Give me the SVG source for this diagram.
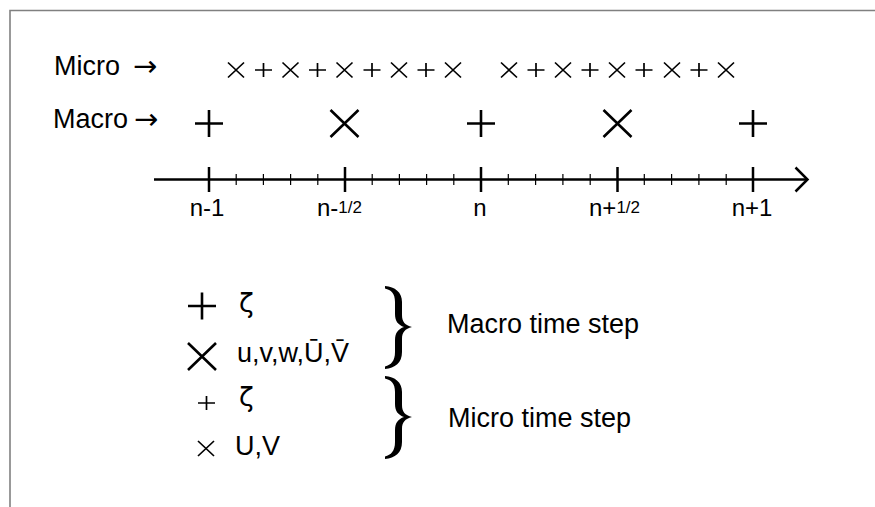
<svg xmlns="http://www.w3.org/2000/svg" xmlns:xlink="http://www.w3.org/1999/xlink" width="875" height="507" viewBox="0 0 875 507">
<style>
text{font-family:"Liberation Sans",Arial,sans-serif;fill:#000}
.lbl{font-size:27px}
.arr{font-family:"DejaVu Sans",sans-serif;font-size:29px}
.ax{font-size:24px}
.fr{font-size:17px}
.zeta{font-family:"DejaVu Sans",sans-serif;font-size:27px}
.mk{fill:none;stroke:#000;stroke-linecap:butt}
.frame{fill:none;stroke:#808080;stroke-width:1.6}
.axis{fill:none;stroke:#000;stroke-width:2.5}
.minor{stroke:#000;stroke-width:1.2}
</style>
<defs>
<path id="microX" class="mk" stroke-width="1.7" d="M-8,-7.5L8,7.5M-8,7.5L8,-7.5"/>
<path id="microP" class="mk" stroke-width="1.7" d="M-8.5,0H8.5M0,-7V7"/>
<path id="macroX" class="mk" stroke-width="2.6" d="M-14,-13.5L14,13.5M-14,13.5L14,-13.5"/>
<path id="macroP" class="mk" stroke-width="2.6" d="M-14,0H14M0,-13.5V13.5"/>
<path id="brace" d="M385,286 C395,287 402,292 402,302 L402,315 C402,322 405,325 412,327 C405,329 402,332 402,339 L402,352 C402,363 395,368 385,369 L385,366.5 C391,365 395,361 395,352 L395,340 C395,333 398,329 404,327 C398,325 395,321 395,314 L395,302 C395,293 391,290 385,288.5 Z" fill="#000"/>
</defs>

<g id="frame">
<path class="frame" d="M10,507V10.5H875"/>
</g>

<g id="row-labels">
<text class="lbl" x="54" y="75">Micro<tspan class="arr" x="133" y="76">→</tspan></text>
<text class="lbl" x="53" y="128">Macro<tspan class="arr" x="134" y="129">→</tspan></text>
</g>

<g id="micro-row">
<use xlink:href="#microX" x="236" y="70"/>
<use xlink:href="#microP" x="263.5" y="70"/>
<use xlink:href="#microX" x="290.5" y="70"/>
<use xlink:href="#microP" x="317.5" y="70"/>
<use xlink:href="#microX" x="344.5" y="70"/>
<use xlink:href="#microP" x="372" y="70"/>
<use xlink:href="#microX" x="399" y="70"/>
<use xlink:href="#microP" x="426" y="70"/>
<use xlink:href="#microX" x="453" y="70"/>
<use xlink:href="#microX" x="509" y="70"/>
<use xlink:href="#microP" x="536" y="70"/>
<use xlink:href="#microX" x="563" y="70"/>
<use xlink:href="#microP" x="590" y="70"/>
<use xlink:href="#microX" x="617" y="70"/>
<use xlink:href="#microP" x="644" y="70"/>
<use xlink:href="#microX" x="672" y="70"/>
<use xlink:href="#microP" x="699" y="70"/>
<use xlink:href="#microX" x="726" y="70"/>
</g>

<g id="macro-row">
<use xlink:href="#macroP" x="209" y="123.5"/>
<use xlink:href="#macroX" x="344.5" y="123.5"/>
<use xlink:href="#macroP" x="481" y="123.5"/>
<use xlink:href="#macroX" x="617.5" y="123.5"/>
<use xlink:href="#macroP" x="753" y="123.5"/>
</g>

<g id="connectors">
<path class="axis" d="M154,179.5H807"/>
<path class="axis" d="M795.5,167.5L807.5,179.5L795.5,191.5"/>
<path class="axis" d="M209,167V192M345,167V192M481,167V192M617.5,167V192M753,167V192"/>
<path class="minor" d="M236.2,174V185M263.4,174V185M290.6,174V185M317.8,174V185M372.2,174V185M399.4,174V185M426.6,174V185M453.8,174V185M508.3,174V185M535.6,174V185M562.9,174V185M590.2,174V185M644.3,174V185M671.6,174V185M698.9,174V185M726.2,174V185"/>
</g>

<g id="axis-labels">
<text class="ax" x="207" y="216" text-anchor="middle">n-1</text>
<text class="ax" x="317" y="216">n-<tspan class="fr" dy="-3">1/2</tspan></text>
<text class="ax" x="480" y="216" text-anchor="middle">n</text>
<text class="ax" x="589" y="216">n+<tspan class="fr" dy="-3">1/2</tspan></text>
<text class="ax" x="752" y="216" text-anchor="middle">n+1</text>
</g>

<g id="legend-macro">
<use xlink:href="#macroP" x="202" y="306"/>
<text class="zeta" x="239" y="312">ζ</text>
<use xlink:href="#macroX" x="202" y="356.5"/>
<text class="lbl" x="237" y="362">u,v,w,Ū,V̄</text>
<use xlink:href="#brace"/>
<text class="lbl" x="447" y="333">Macro time step</text>
</g>

<g id="legend-micro">
<use xlink:href="#microP" x="206.5" y="403"/>
<text class="zeta" x="239" y="406">ζ</text>
<use xlink:href="#microX" x="206" y="448.5"/>
<text class="lbl" x="235" y="455">U,V</text>
<use xlink:href="#brace" transform="translate(0,90)"/>
<text class="lbl" x="448" y="427">Micro time step</text>
</g>
</svg>
